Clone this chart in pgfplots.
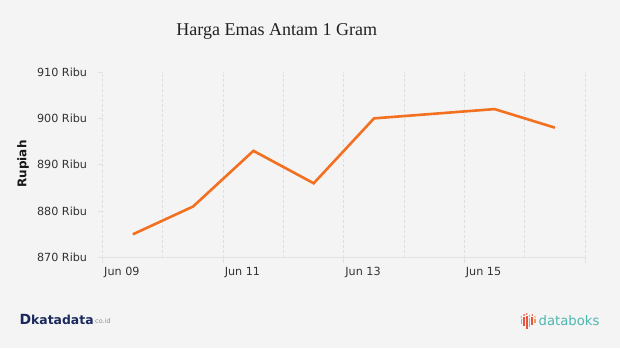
\documentclass[border=0pt]{standalone}
\usepackage{pgfplots}
\pgfplotsset{compat=1.18}
\usepackage{fontspec}
\setmainfont{DejaVu Sans}
\newfontfamily\titlefont{Liberation Serif}
\definecolor{bg}{HTML}{F4F4F4}
\definecolor{lineor}{HTML}{F37021}
\definecolor{gridc}{HTML}{DEDEDE}
\definecolor{axisc}{HTML}{E2E2E2}
\definecolor{ticktext}{HTML}{333333}
\definecolor{navy}{HTML}{1B2A5C}
\definecolor{teal}{HTML}{4DB6B0}
\definecolor{logored}{HTML}{E8553E}
\definecolor{logoor}{HTML}{F39A4A}
\begin{document}
\begin{tikzpicture}[x=1pt,y=1pt]
\fill[bg] (0,0) rectangle (620,348);
\begin{axis}[
  at={(102.7pt,90.5pt)}, anchor=south west,
  scale only axis, width=482.3pt, height=185.5pt,
  xmin=9, xmax=17, ymin=870, ymax=910,
  axis x line*=bottom, axis y line*=left,
  x axis line style={draw=axisc, line width=1.5pt},
  y axis line style={draw=none},
  xtick={9,11,13,15,17},
  xticklabels={Jun 09,Jun 11,Jun 13,Jun 15,{}},
  minor xtick={10,12,14,16},
  ytick={870,880,890,900,910},
  yticklabels={870 Ribu,880 Ribu,890 Ribu,900 Ribu,910 Ribu},
  xmajorgrids, xminorgrids,
  major grid style={draw=gridc, line width=1pt, dash pattern=on 3pt off 2pt},
  minor grid style={draw=gridc, line width=1pt, dash pattern=on 3pt off 2pt},
  tick align=outside,
  major tick length=5pt, minor tick length=0pt,
  tick style={draw=axisc, line width=1pt},
  /pgf/number format/assume math mode=true,
  ticklabel style={font=\fontsize{11.2}{13}\selectfont, text=ticktext},
  xticklabel style={anchor=base west, inner sep=0pt, yshift=-12.5pt, xshift=1.3pt},
  yticklabel style={anchor=east, inner sep=0pt, xshift=-10.4pt},
  clip=false,
]
\addplot[color=lineor, line width=2.6pt] coordinates {
  (9.5,875) (10.5,881) (11.5,893) (12.5,886) (13.5,900) (15.5,902) (16.5,898)
};
\end{axis}
\node[font=\titlefont\fontsize{18}{20}\selectfont, text=black!87] at (276.7,317) {Harga Emas Antam 1 Gram};
\node[rotate=90, font=\bfseries\fontsize{12}{14}\selectfont, text=black!90] at (23,184) {Rupiah};
% katadata logo
\node[anchor=west, inner sep=0pt, font=\bfseries\fontsize{14}{16}\selectfont, text=navy] at (19.5,28.5) {D};
\node[anchor=west, inner sep=0pt, font=\bfseries\fontsize{12.4}{14}\selectfont, text=navy] at (31,28.5) {katadata};
\node[anchor=base west, inner sep=0pt, font=\fontsize{6.5}{7}\selectfont, text=black!45] at (95,24.3) {co.id};
% databoks logo
\foreach \xx/\lo/\hi/\cc in {520.5/24/29/logoor,523.3/22/31/logored,526/19/32/logored,528.7/21/30/logoor,531.4/23/31/logored,534.1/25/29/logoor}{
  \fill[\cc] (\xx,\lo) rectangle (\xx+1.6,\hi);
  \fill[\cc] (\xx+0.8,\hi+2) circle (0.9);
}
\node[anchor=west, inner sep=0pt, font=\fontsize{13.2}{15}\selectfont, text=teal] at (538.5,27) {databoks};
\end{tikzpicture}
\end{document}
